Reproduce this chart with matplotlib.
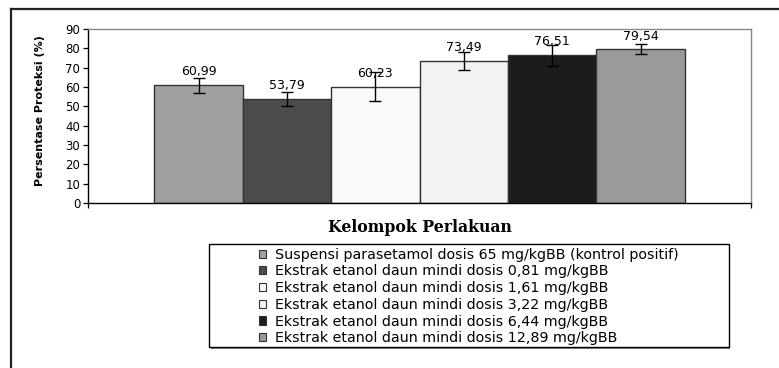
import matplotlib.pyplot as plt
from matplotlib.patches import Patch
from matplotlib.lines import Line2D

# data
kelompok = [
    "Suspensi parasetamol dosis 65 mg/kgBB (kontrol positif)",
    "Ekstrak etanol daun mindi dosis 0,81 mg/kgBB",
    "Ekstrak etanol daun mindi dosis 1,61 mg/kgBB",
    "Ekstrak etanol daun mindi dosis 3,22 mg/kgBB",
    "Ekstrak etanol daun mindi dosis 6,44 mg/kgBB",
    "Ekstrak etanol daun mindi dosis 12,89 mg/kgBB",
]
proteksi = [60.99, 53.79, 60.23, 73.49, 76.51, 79.54]
sd = [3.9, 3.6, 7.7, 4.6, 5.4, 2.6]
warna = ["#a0a0a0", "#4c4c4c", "#f9f9f9", "#f2f2f2", "#1c1c1c", "#9a9a9a"]
yticks = [0, 10, 20, 30, 40, 50, 60, 70, 80, 90]

plt.rcParams['font.family'] = ['DejaVu Sans']

W, H = 779, 368
fig = plt.figure(figsize=(W / 100, H / 100), dpi=100)

# outer frame (only left and top edges are visible)
fig.add_artist(Line2D([11 / W, 11 / W], [0, 1 - 9 / H], transform=fig.transFigure,
                      color="#222222", lw=1.6))
fig.add_artist(Line2D([11 / W, 1], [1 - 9 / H, 1 - 9 / H], transform=fig.transFigure,
                      color="#222222", lw=1.6))

ax = fig.add_axes([88 / W, 1 - 203 / H, (751 - 88) / W, (203 - 29) / H])

n = len(proteksi)
w = 0.8 / n
xs = [0.5 + (i - (n - 1) / 2) * w for i in range(n)]
ax.bar(xs, proteksi, width=w, color=warna, edgecolor="#333333", linewidth=1.0, zorder=2)
ax.errorbar(xs, proteksi, yerr=sd, fmt="none", ecolor="black", elinewidth=1.0,
            capsize=4, capthick=1.0, zorder=3)

for x, v in zip(xs, proteksi):
    ax.annotate(f"{v:.2f}".replace(".", ","), (x, v), xytext=(0, 9.5),
                textcoords="offset points", ha="center", va="center",
                fontsize=9, zorder=4)

ax.set_xlim(0, 1)
ax.set_ylim(0, 90)
ax.set_yticks(yticks)
ax.set_xticks([0, 1])
ax.set_xticklabels([])
ax.tick_params(axis="both", direction="out", length=3.6, width=0.9, colors="black",
               labelsize=8.5, pad=2)

for s in ["left", "bottom"]:
    ax.spines[s].set_color("black")
    ax.spines[s].set_linewidth(1.0)
for s in ["top", "right"]:
    ax.spines[s].set_color("#888888")
    ax.spines[s].set_linewidth(1.0)

fig.text(40 / W, 1 - 111 / H, "Persentase Proteksi (%)", rotation=90,
         ha="center", va="center", fontsize=8, fontweight="bold")
fig.text(420 / W, 1 - 227 / H, "Kelompok Perlakuan", ha="center", va="center",
         fontsize=11.3, fontweight="bold", family="DejaVu Serif")

# legend box
lx0, lx1, ly0, ly1 = 209, 729, 244, 347
fig.add_artist(plt.Rectangle((lx0 / W + 1.5 / W, 1 - ly1 / H - 1.5 / H),
                             (lx1 - lx0) / W, (ly1 - ly0) / H, transform=fig.transFigure,
                             facecolor="#888888", edgecolor="none", zorder=1))
fig.add_artist(plt.Rectangle((lx0 / W, 1 - ly1 / H), (lx1 - lx0) / W, (ly1 - ly0) / H,
                             transform=fig.transFigure, facecolor="white",
                             edgecolor="black", lw=1.0, zorder=2))

handles = [Patch(facecolor=c, edgecolor="#333333", linewidth=0.8) for c in warna]
leg = fig.legend(handles, kelompok, loc="center left",
                 bbox_to_anchor=(252 / W, 1 - 296.5 / H),
                 frameon=False, fontsize=10.3, handlelength=0.5, handleheight=0.5,
                 handletextpad=0.6, labelspacing=0.19, borderpad=0)
leg.set_zorder(3)

fig.savefig("out.png", dpi=100)
